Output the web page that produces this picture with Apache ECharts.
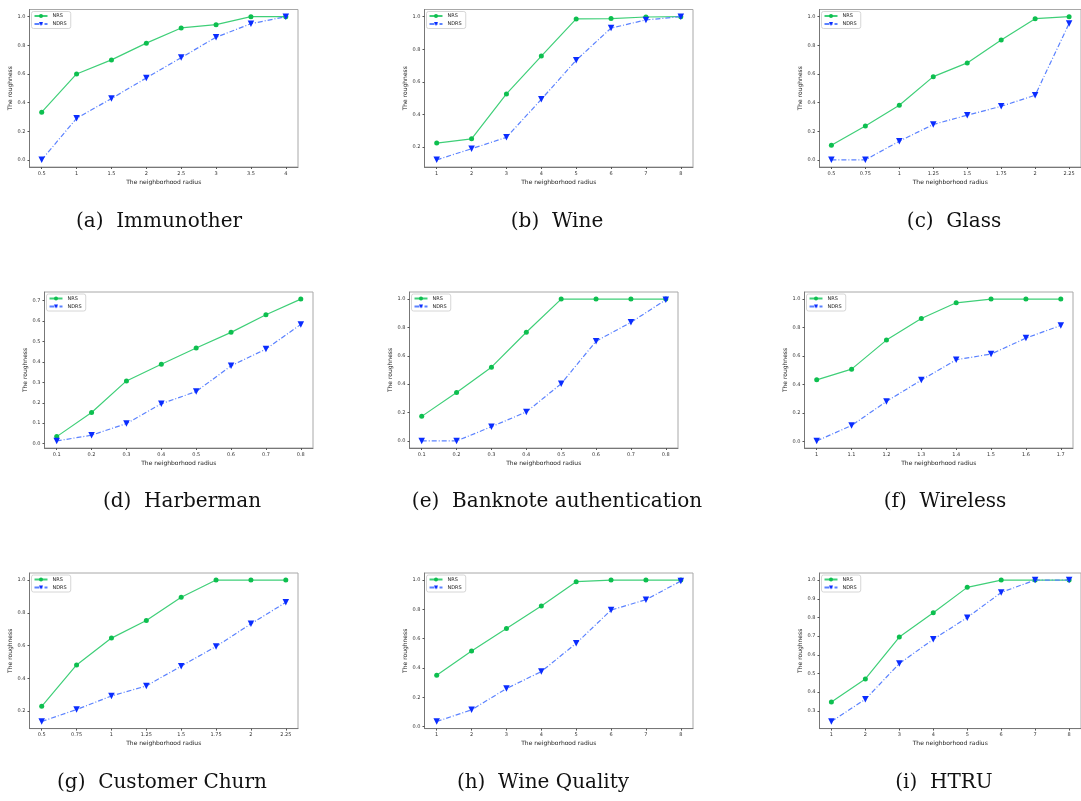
<!DOCTYPE html>
<html><head><meta charset="utf-8">
<script src="https://cdn.jsdelivr.net/npm/echarts@6/dist/echarts.min.js"></script>
<style>html,body{margin:0;padding:0;background:#fff}#c{width:1081px;height:801px}</style>
</head><body><div id="c"></div>
<script>
// ---- data ----
const seriesNames = ['NRS', 'NDRS'];
const xTitle = 'The neighborhood radius';
const yTitle = 'The roughness';

const immunotherX = [0.5, 1, 1.5, 2, 2.5, 3, 3.5, 4];
const immunotherNRS = [0.333, 0.600, 0.698, 0.815, 0.921, 0.944, 1.0, 1.0];
const immunotherNDRS = [0.0, 0.290, 0.428, 0.572, 0.714, 0.856, 0.951, 1.0];
const immunotherYTicks = [0.0, 0.2, 0.4, 0.6, 0.8, 1.0];

const wineX = [1, 2, 3, 4, 5, 6, 7, 8];
const wineNRS = [0.225, 0.251, 0.526, 0.758, 0.986, 0.988, 0.998, 1.0];
const wineNDRS = [0.122, 0.190, 0.260, 0.493, 0.733, 0.930, 0.980, 1.0];
const wineYTicks = [0.2, 0.4, 0.6, 0.8, 1.0];

const glassX = [0.5, 0.75, 1, 1.25, 1.5, 1.75, 2, 2.25];
const glassNRS = [0.102, 0.237, 0.381, 0.581, 0.677, 0.837, 0.986, 1.0];
const glassNDRS = [0.0, 0.0, 0.130, 0.247, 0.312, 0.374, 0.451, 0.953];
const glassYTicks = [0.0, 0.2, 0.4, 0.6, 0.8, 1.0];

const harbermanX = [0.1, 0.2, 0.3, 0.4, 0.5, 0.6, 0.7, 0.8];
const harbermanNRS = [0.034, 0.152, 0.307, 0.389, 0.468, 0.545, 0.631, 0.708];
const harbermanNDRS = [0.013, 0.041, 0.098, 0.195, 0.255, 0.381, 0.463, 0.584];
const harbermanYTicks = [0.0, 0.1, 0.2, 0.3, 0.4, 0.5, 0.6, 0.7];

const banknoteX = [0.1, 0.2, 0.3, 0.4, 0.5, 0.6, 0.7, 0.8];
const banknoteNRS = [0.173, 0.342, 0.520, 0.766, 1.0, 1.0, 1.0, 1.0];
const banknoteNDRS = [0.0, 0.0, 0.100, 0.204, 0.403, 0.703, 0.836, 0.995];
const banknoteYTicks = [0.0, 0.2, 0.4, 0.6, 0.8, 1.0];

const wirelessX = [1, 1.1, 1.2, 1.3, 1.4, 1.5, 1.6, 1.7];
const wirelessNRS = [0.433, 0.508, 0.712, 0.864, 0.974, 1.0, 1.0, 1.0];
const wirelessNDRS = [0.004, 0.112, 0.281, 0.431, 0.574, 0.614, 0.726, 0.815];
const wirelessYTicks = [0.0, 0.2, 0.4, 0.6, 0.8, 1.0];

const churnX = [0.5, 0.75, 1, 1.25, 1.5, 1.75, 2, 2.25];
const churnNRS = [0.230, 0.482, 0.646, 0.753, 0.895, 1.0, 1.0, 1.0];
const churnNDRS = [0.137, 0.210, 0.293, 0.354, 0.475, 0.595, 0.733, 0.864];
const churnYTicks = [0.2, 0.4, 0.6, 0.8, 1.0];

const wineQualityX = [1, 2, 3, 4, 5, 6, 7, 8];
const wineQualityNRS = [0.350, 0.516, 0.670, 0.823, 0.989, 1.0, 1.0, 1.0];
const wineQualityNDRS = [0.034, 0.114, 0.259, 0.375, 0.568, 0.795, 0.866, 0.993];
const wineQualityYTicks = [0.0, 0.2, 0.4, 0.6, 0.8, 1.0];

const htruX = [1, 2, 3, 4, 5, 6, 7, 8];
const htruNRS = [0.348, 0.471, 0.695, 0.825, 0.961, 1.0, 1.0, 1.0];
const htruNDRS = [0.243, 0.362, 0.553, 0.683, 0.799, 0.934, 1.0, 1.0];
const htruYTicks = [0.3, 0.4, 0.5, 0.6, 0.7, 0.8, 0.9, 1.0];

const captions = ['(a)  Immunother', '(b)  Wine', '(c)  Glass',
  '(d)  Harberman', '(e)  Banknote authentication', '(f)  Wireless',
  '(g)  Customer Churn', '(h)  Wine Quality', '(i)  HTRU'];

const panels = [
  [immunotherX, immunotherNRS, immunotherNDRS, immunotherYTicks],
  [wineX, wineNRS, wineNDRS, wineYTicks],
  [glassX, glassNRS, glassNDRS, glassYTicks],
  [harbermanX, harbermanNRS, harbermanNDRS, harbermanYTicks],
  [banknoteX, banknoteNRS, banknoteNDRS, banknoteYTicks],
  [wirelessX, wirelessNRS, wirelessNDRS, wirelessYTicks],
  [churnX, churnNRS, churnNDRS, churnYTicks],
  [wineQualityX, wineQualityNRS, wineQualityNDRS, wineQualityYTicks],
  [htruX, htruNRS, htruNDRS, htruYTicks]
];

// ---- layout (pixels) ----
const frameLT = [[29.5, 9.5], [424.5, 9.5], [819.5, 9.5],
  [44.5, 292], [409.5, 292], [804.5, 292],
  [29.5, 573], [424.5, 573], [819.5, 573]];
const rowH = [157.5, 156, 155.6];
const frameW = 268.5;
const captionXY = [[159, 222], [557, 222], [954, 222],
  [182, 502], [557, 502], [945, 502],
  [162, 783], [543, 783], [944, 783]];

const pad = v => (v.max - v.min) * 0.05;
const tiny = { fontFamily: 'DejaVu Sans', fontSize: 5, color: '#333' };

const grid = [], xAxis = [], yAxis = [], series = [], legend = [], graphic = [];
panels.forEach((p, i) => {
  const [xs, nrs, ndrs, yt] = p;
  const [l, t] = frameLT[i];
  const h = rowH[Math.floor(i / 3)];
  grid.push({ left: l, top: t, width: frameW, height: h, show: true,
    borderColor: '#a8a8a8', borderWidth: 1, backgroundColor: 'transparent', containLabel: false });
  xAxis.push({ type: 'value', gridIndex: i,
    min: v => v.min - pad(v), max: v => v.max + pad(v),
    name: xTitle, nameLocation: 'middle', nameGap: 12,
    nameTextStyle: { fontFamily: 'DejaVu Sans', fontSize: 6, color: '#222' },
    axisLine: { show: true, onZero: false, lineStyle: { color: '#777', width: 1 } },
    axisTick: { show: true, length: 2, customValues: xs, lineStyle: { color: '#555' } },
    axisLabel: { customValues: xs, margin: 4, ...tiny, formatter: v => String(v) },
    splitLine: { show: false } });
  yAxis.push({ type: 'value', gridIndex: i,
    min: v => v.min - pad(v), max: v => v.max + pad(v),
    name: yTitle, nameLocation: 'middle', nameGap: 13,
    nameTextStyle: { fontFamily: 'DejaVu Sans', fontSize: 6, color: '#222' },
    axisLine: { show: true, onZero: false, lineStyle: { color: '#777', width: 1 } },
    axisTick: { show: true, length: 2, customValues: yt, lineStyle: { color: '#555' } },
    axisLabel: { customValues: yt, margin: 4, ...tiny, formatter: v => v.toFixed(1) },
    splitLine: { show: false } });
  series.push({ name: seriesNames[0], type: 'line', xAxisIndex: i, yAxisIndex: i,
    data: xs.map((x, j) => [x, nrs[j]]),
    symbol: 'circle', symbolSize: 5, showAllSymbol: true,
    lineStyle: { color: '#3fcf78', width: 1.2 },
    itemStyle: { color: '#0dbf4f' }, z: 3 });
  series.push({ name: seriesNames[1], type: 'line', xAxisIndex: i, yAxisIndex: i,
    data: xs.map((x, j) => [x, ndrs[j]]),
    symbol: 'triangle', symbolRotate: 180, symbolSize: 6.5, showAllSymbol: true,
    lineStyle: { color: '#5b82ff', width: 1.2, type: [5, 2, 1, 2] },
    itemStyle: { color: '#0a2cff' }, z: 4 });
  legend.push({ data: seriesNames, orient: 'vertical', left: l + 2, top: t + 2,
    itemWidth: 13, itemHeight: 5, itemGap: 3, padding: [2, 4, 2, 2],
    borderColor: '#ccc', borderWidth: 0.8, borderRadius: 2, backgroundColor: '#fff',
    textStyle: { fontFamily: 'DejaVu Sans', fontSize: 5, color: '#222', padding: [0, 0, 0, 0] },
    selectedMode: false });
  graphic.push({ type: 'text', x: captionXY[i][0], y: captionXY[i][1],
    style: { text: captions[i], textAlign: 'center', textVerticalAlign: 'middle',
      fontFamily: 'DejaVu Serif', fontSize: 20, fill: '#111' } });
});

const chart = echarts.init(document.getElementById('c'), null, { renderer: 'canvas' });
chart.setOption({ animation: false, backgroundColor: '#fff',
  grid, xAxis, yAxis, series, legend, graphic });
</script></body></html>
